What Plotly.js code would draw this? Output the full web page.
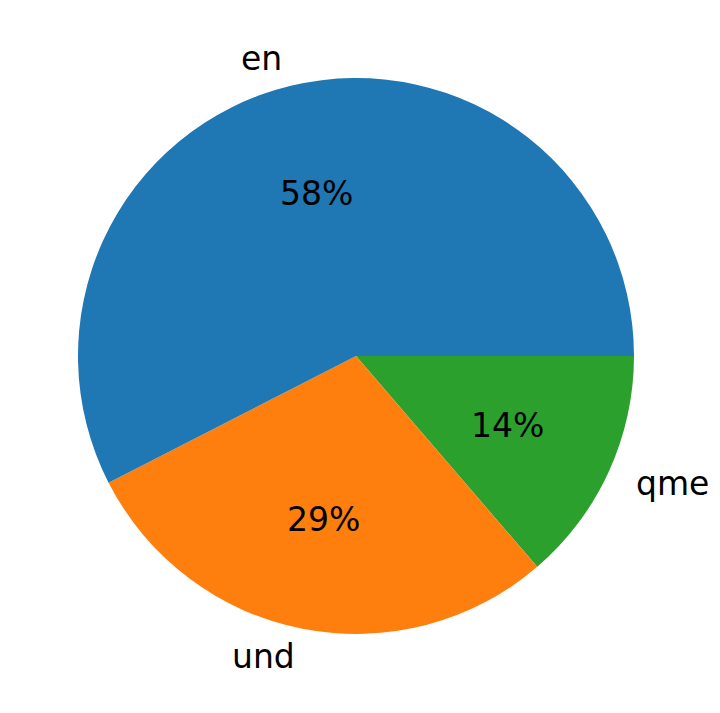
<!DOCTYPE html>
<html>
<head>
<meta charset="utf-8">
<script src="https://cdn.plot.ly/plotly-3.0.1.min.js"></script>
<style>html,body{margin:0;padding:0;background:#fff;}</style>
</head>
<body>
<div id="chart" style="width:720px;height:713px;"></div>
<script>
const labels = ["en", "und", "qme"];
const values = [42, 21, 10];
const colors = ["#1f77b4", "#ff7f0e", "#2ca02c"];

const W = 720, H = 713;
const cx = 356, cy = 356, R = 278;
const fontFam = "DejaVu Sans, sans-serif";
const fontSize = 33;

const total = values.reduce((a, b) => a + b, 0);
const annotations = [];
let cum = 0;
values.forEach((v, i) => {
  const frac = v / total;
  const mid = (cum + frac / 2) * 2 * Math.PI;
  cum += frac;
  const c = Math.cos(mid), s = Math.sin(mid);
  const lx = cx + 1.1 * R * c, ly = cy - 1.1 * R * s;
  annotations.push({
    x: lx / W, y: 1 - ly / H, xref: "paper", yref: "paper",
    text: labels[i], showarrow: false,
    xanchor: c < 0 ? "right" : "left", yanchor: "middle",
    font: {family: fontFam, size: fontSize, color: "#000"}
  });
  const px = cx + 0.6 * R * c, py = cy - 0.6 * R * s;
  annotations.push({
    x: px / W, y: 1 - py / H, xref: "paper", yref: "paper",
    text: Math.round(frac * 100) + "%", showarrow: false,
    xanchor: "center", yanchor: "middle",
    font: {family: fontFam, size: fontSize, color: "#000"}
  });
});

// Matplotlib draws counterclockwise from 3 o'clock; in Plotly draw the
// reversed order clockwise from 3 o'clock, which gives the same layout.
const trace = {
  type: "pie",
  labels: labels.slice().reverse(),
  values: values.slice().reverse(),
  sort: false,
  direction: "clockwise",
  rotation: 90,
  marker: {colors: colors.slice().reverse(), line: {width: 0}},
  textinfo: "none",
  hoverinfo: "none",
  showlegend: false,
  domain: {x: [(cx - R) / W, (cx + R) / W], y: [(H - cy - R) / H, (H - cy + R) / H]}
};

Plotly.newPlot("chart", [trace], {
  width: W, height: H,
  margin: {l: 0, r: 0, t: 0, b: 0},
  paper_bgcolor: "#fff",
  showlegend: false,
  annotations: annotations
}, {staticPlot: true});
</script>
</body>
</html>
